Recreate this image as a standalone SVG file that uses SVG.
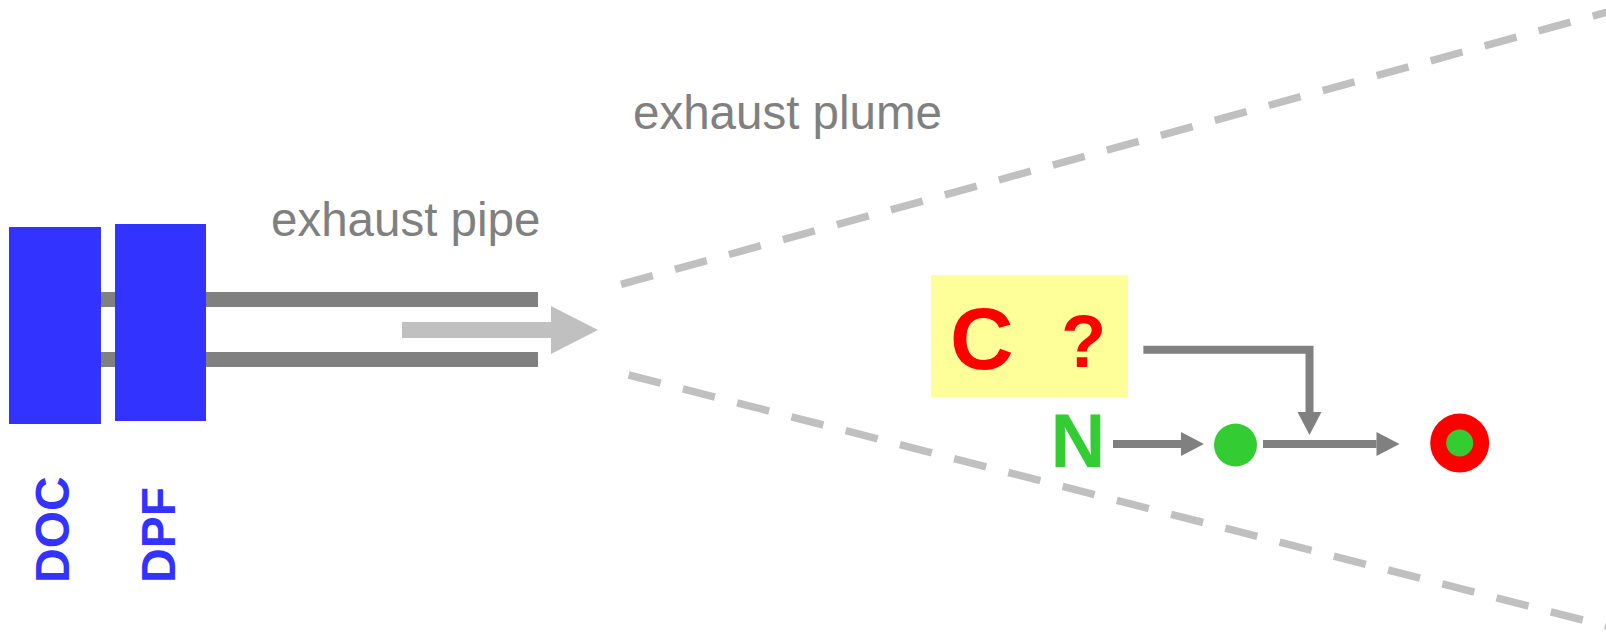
<svg xmlns="http://www.w3.org/2000/svg" width="1606" height="638" viewBox="0 0 1606 638">
  <style>
    .label { font-family: "Liberation Sans", Arial, sans-serif; fill: #808080; font-size: 47.5px; }
    .bold { font-family: "Liberation Sans", Arial, sans-serif; font-weight: bold; }
    .blue { fill: #3333ff; }
    .pipe { fill: #808080; }
    .plume { fill: none; stroke: #c0c0c0; stroke-width: 7.5; stroke-dasharray: 33 23; }
    .conn { fill: none; stroke: #808080; stroke-width: 8; stroke-linejoin: miter; }
  </style>
  <defs>
    <marker id="head" markerUnits="userSpaceOnUse" markerWidth="24" markerHeight="26" viewBox="0 -13 24 26" refX="0" refY="0" orient="auto" overflow="visible">
      <path d="M0,-12 L23,0 L0,12 z" fill="#808080"/>
    </marker>
  </defs>
  <rect width="1606" height="638" fill="#ffffff"/>

  <g id="exhaust-pipe">
    <rect class="pipe" x="100" y="292" width="438" height="15"/>
    <rect class="pipe" x="100" y="352" width="438" height="15"/>
    <path d="M402,322 H551 V306 L598,330 L551,354 V338 H402 z" fill="#c0c0c0"/>
    <text class="label" x="271" y="235.5">exhaust pipe</text>
  </g>

  <g id="exhaust-plume">
    <path class="plume" d="M621,284.3 L1610,11.3"/>
    <path class="plume" d="M628.7,375 L1610,627"/>
    <text class="label" x="633" y="129">exhaust plume</text>
  </g>

  <g id="doc">
    <rect class="blue" x="9" y="227" width="92" height="197"/>
    <text class="bold blue" font-size="48" transform="translate(69,583) rotate(-90)">DOC</text>
  </g>

  <g id="dpf">
    <rect class="blue" x="115" y="224" width="91" height="197"/>
    <text class="bold blue" font-size="48" transform="translate(175,583) rotate(-90)">DPF</text>
  </g>

  <g id="c-box">
    <rect x="931" y="275" width="197" height="122" fill="#ffff99"/>
    <text class="bold" x="950" y="369" font-size="88" fill="#ff0000">C</text>
    <text class="bold" x="1061" y="367" font-size="74" fill="#ff0000">?</text>
  </g>

  <g id="n-label">
    <text class="bold" x="1050.5" y="466.5" font-size="76" fill="#33cc33">N</text>
  </g>

  <g id="dot">
    <circle cx="1235.5" cy="445" r="21.5" fill="#33cc33"/>
  </g>

  <g id="ring">
    <circle cx="1459.7" cy="443" r="29.5" fill="#ff0000"/>
    <circle cx="1459.7" cy="443" r="13.5" fill="#33cc33"/>
  </g>

  <g id="connectors">
    <path class="conn" d="M1113,444 H1181" marker-end="url(#head)"/>
    <path class="conn" d="M1263,444 H1376.5" marker-end="url(#head)"/>
    <path class="conn" d="M1143.4,349.7 H1309.5 V412" marker-end="url(#head)"/>
  </g>
</svg>
